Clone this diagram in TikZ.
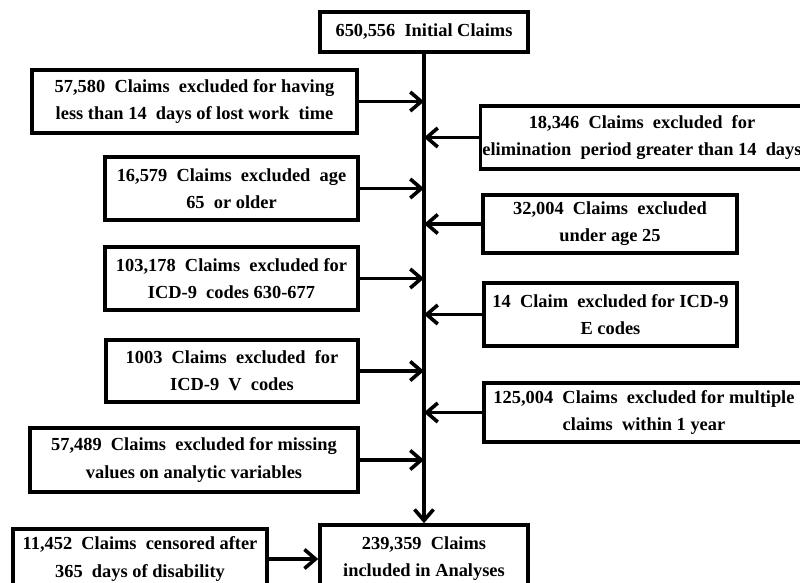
\documentclass[tikz,border=0pt]{standalone}
\usepackage{fontspec}
\setmainfont{Liberation Serif}
\usepackage{tikz}
\usetikzlibrary{arrows.meta}
\tikzstyle{startstop} = [rectangle, draw=black, line width=1.8pt, align=center, inner sep=1pt, font=\bfseries\fontsize{9.2}{13.6}\selectfont]
\tikzstyle{exclude} = [startstop, minimum height=31.5pt]
\tikzstyle{arrow} = [line width=1.8pt, -{Straight Barb[length=5.5pt,width=9.5pt]}]

\begin{document}
\begin{tikzpicture}[x=0.5pt, y=-0.5pt]

\useasboundingbox (0,0) rectangle (800,583);

\node (init)  [startstop, minimum width=104pt, minimum height=20pt] at (424,32)   {650,556\ \ Initial Claims};
\node (ex1)   [exclude, minimum width=162.5pt] at (194.5,101.5) {57,580\ \ Claims\ \ excluded for having\\less than 14\ \ days of lost work\ \ time};
\node (ex2)   [exclude, minimum width=160pt]   at (642,137.5)   {18,346\ \ Claims\ \ excluded\ \ for\\elimination\ \ period greater than 14\ \ days};
\node (ex3)   [exclude, minimum width=126.5pt] at (231.5,188.5) {16,579\ \ Claims\ \ excluded\ \ age\\65\ \ or older};
\node (ex4)   [exclude, minimum width=127pt, minimum height=29pt] at (610,224) {32,004\ \ Claims\ \ excluded\\under age 25};
\node (ex5)   [exclude, minimum width=126.5pt] at (231.5,278.5) {103,178\ \ Claims\ \ excluded for\\ICD-9\ \ codes 630-677};
\node (ex6)   [exclude, minimum width=126.5pt] at (610.5,314.5) {14\ \ Claim\ \ excluded for ICD-9\\E codes};
\node (ex7)   [exclude, minimum width=126pt, minimum height=31pt] at (232,371) {1003\ \ Claims\ \ excluded\ \ for\\ICD-9\ \ V\ \ codes};
\node (ex8)   [exclude, minimum width=160pt, minimum height=29.5pt] at (644,412.5) {125,004\ \ Claims\ \ excluded for multiple\\claims\ \ within 1 year};
\node (ex9)   [exclude, minimum width=164pt, minimum height=32pt] at (194,460) {57,489\ \ Claims\ \ excluded for missing\\values on analytic variables};
\node (final) [startstop, minimum width=104pt, minimum height=34pt] at (424,559) {239,359\ \ Claims\\included in\ Analyses};
\node (cens)  [startstop, minimum width=127pt, minimum height=30pt] at (140,559) {11,452\ \ Claims\ \ censored after\\365\ \ days of disability};

\draw [arrow] (init) -- (final);
\foreach \n in {ex1,ex3,ex5,ex7,ex9}
  \draw [arrow] (\n.east) -- (\n.east -| init);
\foreach \n in {ex2,ex4,ex6,ex8}
  \draw [arrow] (\n.west) -- (\n.west -| init);
\draw [arrow] (cens.east) -- (cens.east -| final.west);

\end{tikzpicture}
\end{document}
